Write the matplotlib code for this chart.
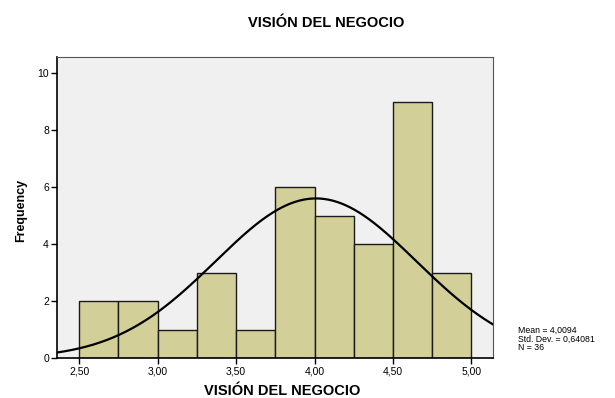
import numpy as np
import matplotlib
matplotlib.use("Agg")
import matplotlib.pyplot as plt

plt.rcParams['font.family'] = ['Liberation Sans', 'DejaVu Sans']

# Histogram bins (edges) and counts
bin_edges = [2.50, 2.75, 3.00, 3.25, 3.50, 3.75, 4.00, 4.25, 4.50, 4.75, 5.00]
counts = [2, 2, 1, 3, 1, 6, 5, 4, 9, 3]
mean, std_dev, n = 4.0094, 0.64081, 36
x_ticks = [2.50, 3.00, 3.50, 4.00, 4.50, 5.00]
x_tick_labels = ['2,50', '3,00', '3,50', '4,00', '4,50', '5,00']
y_ticks = [0, 2, 4, 6, 8, 10]

W, H = 615, 398
fig = plt.figure(figsize=(W / 100, H / 100), dpi=100)
ax = fig.add_axes([57.3 / W, 1 - 358.3 / H, 436 / W, 301 / H])
ax.set_facecolor('#F0F0F0')

widths = np.diff(bin_edges)
ax.bar(bin_edges[:-1], counts, width=widths, align='edge',
       color='#D3CF98', edgecolor='#1a1a1a', linewidth=1.0, zorder=2)

# Normal curve scaled to counts
xmin, xmax = 2.36, 5.14
xs = np.linspace(xmin, xmax, 400)
bw = widths[0]
ys = n * bw / (std_dev * np.sqrt(2 * np.pi)) * np.exp(-0.5 * ((xs - mean) / std_dev) ** 2)
ax.plot(xs, ys, color='black', linewidth=1.6, zorder=3)

ax.set_xlim(xmin, xmax)
ax.set_ylim(0, 10.55)
ax.set_xticks(x_ticks)
ax.set_xticklabels(x_tick_labels)
ax.set_yticks(y_ticks)
ax.tick_params(axis='both', direction='out', length=4, width=1.0,
               labelsize=7.5, colors='black', pad=2)

for side in ['left', 'bottom']:
    ax.spines[side].set_color('black')
    ax.spines[side].set_linewidth(1.2)
for side in ['top', 'right']:
    ax.spines[side].set_color('#555555')
    ax.spines[side].set_linewidth(0.8)

fig.text(21 / W, 1 - 210 / H, 'Frequency', rotation=90, ha='center', va='center',
         fontsize=9, fontweight='bold')
fig.text(282 / W, 1 - 391 / H, 'VISIÓN DEL NEGOCIO', ha='center', va='center',
         fontsize=10.5, fontweight='bold')
fig.text(326 / W, 1 - 23 / H, 'VISIÓN DEL NEGOCIO', ha='center', va='center',
         fontsize=10.5, fontweight='bold')

stats = "Mean = 4,0094\nStd. Dev. = 0,64081\nN = 36"
fig.text(518 / W, 1 - 339 / H, stats, ha='left', va='center',
         fontsize=6.3, linespacing=1.0)

fig.savefig('out.png', dpi=100)
